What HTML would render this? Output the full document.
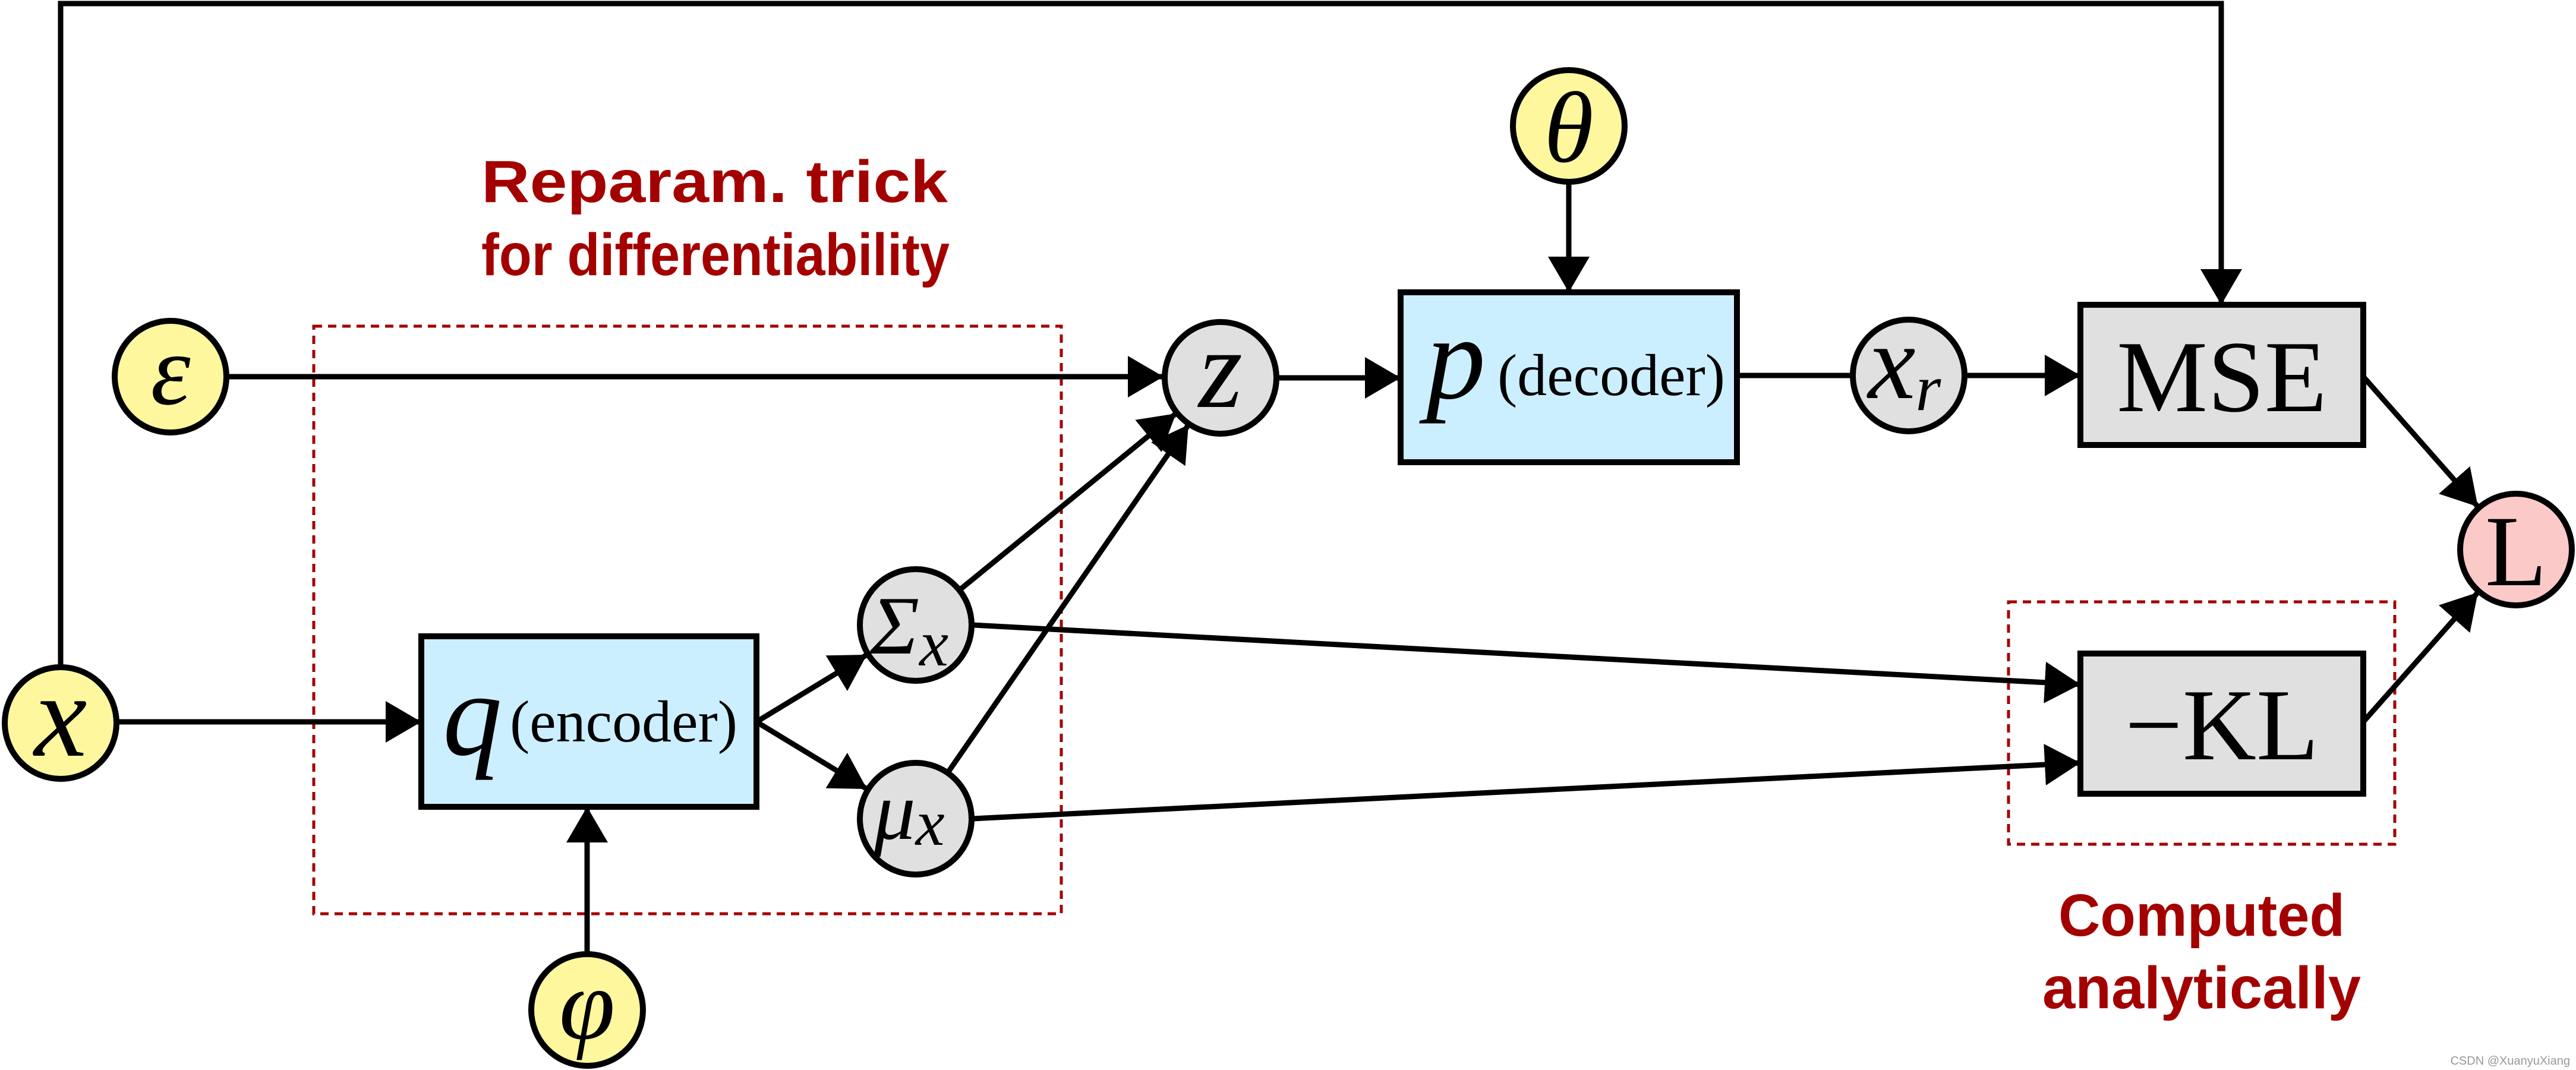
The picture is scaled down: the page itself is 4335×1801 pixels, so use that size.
<!DOCTYPE html>
<html><head><meta charset="utf-8"><style>
html,body{margin:0;padding:0;background:#fff;}
svg{display:block;}
.m{font-family:"Liberation Serif",serif;font-style:italic;}
.r{font-family:"Liberation Serif",serif;}
.red{font-family:"Liberation Sans",sans-serif;font-weight:bold;fill:#a30000;font-size:100px;}
</style></head><body>
<svg width="4335" height="1801" viewBox="0 0 4335 1801" xmlns="http://www.w3.org/2000/svg">
<defs>
<marker id="a" markerUnits="userSpaceOnUse" markerWidth="62" markerHeight="72" refX="60" refY="35" orient="auto">
<path d="M0,0 L60,35 L0,70 z" fill="#000"/>
</marker>
</defs>
<g fill="none" stroke="#a30000" stroke-width="5" stroke-dasharray="14,10">
<rect x="528" y="549" width="1258" height="989"/>
<rect x="3380" y="1013" width="650" height="408"/>
</g>
<g stroke="#000" stroke-width="9" fill="none">
<polyline points="102,1121 102,6 3738,6 3738,513" marker-end="url(#a)"/>
<line x1="383" y1="634" x2="1958" y2="634" marker-end="url(#a)"/>
<line x1="198" y1="1215" x2="709" y2="1215" marker-end="url(#a)"/>
<line x1="988" y1="1604" x2="988" y2="1358" marker-end="url(#a)"/>
<line x1="1273" y1="1215" x2="1459" y2="1102" marker-end="url(#a)"/>
<line x1="1273" y1="1215" x2="1459" y2="1328" marker-end="url(#a)"/>
<line x1="1616" y1="992" x2="1979" y2="696" marker-end="url(#a)"/>
<line x1="1596" y1="1299" x2="2000" y2="715" marker-end="url(#a)"/>
<line x1="1637" y1="1052" x2="3501" y2="1152" marker-end="url(#a)"/>
<line x1="1637" y1="1378" x2="3501" y2="1284" marker-end="url(#a)"/>
<line x1="2640" y1="309" x2="2640" y2="492" marker-end="url(#a)"/>
<line x1="2150" y1="636" x2="2357" y2="636" marker-end="url(#a)"/>
<line x1="2923" y1="632" x2="3115" y2="632"/>
<line x1="3309" y1="632" x2="3501" y2="632" marker-end="url(#a)"/>
<line x1="3977" y1="634" x2="4170" y2="853" marker-end="url(#a)"/>
<line x1="3977" y1="1215" x2="4170" y2="997" marker-end="url(#a)"/>
</g>
<g stroke="#000" stroke-width="10">
<rect x="709" y="1071" width="564" height="287" fill="#ccefff"/>
<rect x="2357" y="492" width="566" height="286" fill="#ccefff"/>
<rect x="3501" y="513" width="476" height="236" fill="#e0e0e0"/>
<rect x="3501" y="1100" width="476" height="236" fill="#e0e0e0"/>
<circle cx="102" cy="1217" r="94" fill="#fff79e"/>
<circle cx="287" cy="634" r="94" fill="#fff79e"/>
<circle cx="988" cy="1700" r="94" fill="#fff79e"/>
<circle cx="2640" cy="212" r="94" fill="#fff79e"/>
<circle cx="2054" cy="636" r="94" fill="#e0e0e0"/>
<circle cx="1541" cy="1052" r="94" fill="#e0e0e0"/>
<circle cx="1541" cy="1378" r="94" fill="#e0e0e0"/>
<circle cx="3212" cy="632" r="94" fill="#e0e0e0"/>
<circle cx="4234" cy="925" r="94" fill="#fcc9c9"/>
</g>
<g text-anchor="middle">
<text x="102" y="1272" class="m" font-size="200">x</text>
<text x="287" y="680" class="m" font-size="170">ε</text>
<text x="988" y="1748" class="m" font-size="170">φ</text>
<text x="2640" y="272" class="m" font-size="170">θ</text>
<text x="2054" y="685" class="m" font-size="190">z</text>
<text x="1530" y="1100" class="m" font-size="140">Σ<tspan font-size="110" dy="20">x</tspan></text>
<text x="1530" y="1412" class="m" font-size="140">μ<tspan font-size="110" dy="10">x</tspan></text>
<text x="3205" y="670" class="m" font-size="180">x<tspan font-size="110" dy="20">r</tspan></text>
<text x="4234" y="985" class="r" font-size="170">L</text>
<text x="3739" y="692" class="r" font-size="172">MSE</text>
<text x="3739" y="1278" class="r" font-size="172">−KL</text>
</g>
<text x="745" y="1270" class="m" font-size="200">q</text>
<text x="858" y="1248" class="r" font-size="100">(encoder)</text>
<text x="2400" y="670" class="m" font-size="200">p</text>
<text x="2520" y="665" class="r" font-size="100">(decoder)</text>
<text x="810" y="340" class="red" textLength="785" lengthAdjust="spacingAndGlyphs">Reparam. trick</text>
<text x="810" y="463" class="red" textLength="788" lengthAdjust="spacingAndGlyphs">for differentiability</text>
<text x="3464" y="1575" class="red" textLength="482" lengthAdjust="spacingAndGlyphs">Computed</text>
<text x="3437" y="1697" class="red" textLength="536" lengthAdjust="spacingAndGlyphs">analytically</text>
<text x="4325" y="1792" text-anchor="end" font-family="Liberation Sans,sans-serif" font-size="20" fill="#999">CSDN @XuanyuXiang</text>
</svg>
</body></html>
